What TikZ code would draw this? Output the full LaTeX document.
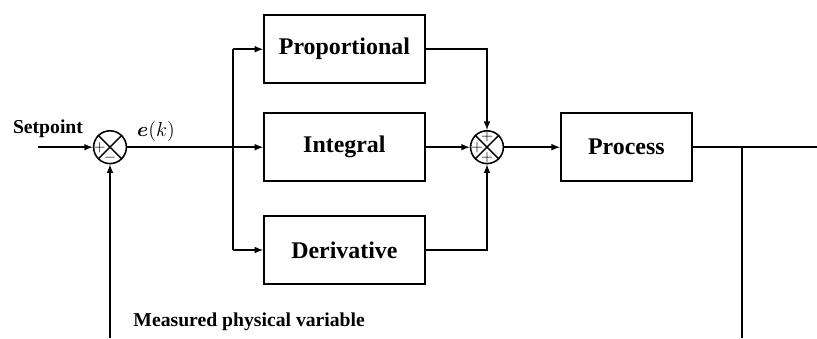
\documentclass[tikz,border=0pt]{standalone}
\usepackage{amsmath}
\usepackage{bm}
\usepackage{fontspec}
\setmainfont{Liberation Serif}
\usetikzlibrary{arrows,calc}

\begin{document}
\begin{tikzpicture}[>=latex,line width=1.1pt,
  block/.style={draw,minimum width=4.02cm,minimum height=1.7cm,font=\fontsize{17}{20}\selectfont\bfseries},
  sumnode/.style={draw,circle,minimum size=0.82cm,inner sep=0pt},
  sign/.style={inner sep=0pt,font=\fontsize{11}{12}\selectfont}]

\useasboundingbox (0,0) rectangle (20.425,8.45);

\def\ymain{4.77}

% summing junctions
\node[sumnode] (s1) at (2.75,\ymain) {};
\draw[line width=1pt] (s1.north west)--(s1.south east) (s1.north east)--(s1.south west);
\node[sign] at ($(s1.center)+(-0.26,0)$) {$+$};
\node[sign] at ($(s1.center)+(0,-0.27)$) {$-$};

\node[sumnode] (s2) at (12.175,\ymain) {};
\draw[line width=1pt] (s2.north west)--(s2.south east) (s2.north east)--(s2.south west);
\node[sign] at ($(s2.center)+(0,0.26)$) {$+$};
\node[sign] at ($(s2.center)+(-0.25,0)$) {$+$};
\node[sign] at ($(s2.center)+(0,-0.26)$) {$+$};

% controller terms and plant
\node[block] (P) at (8.61,7.22) {Proportional};
\node[block] (I) at (8.61,\ymain) {Integral};
\node[block] (D) at (8.61,2.2) {Derivative};
\node[block,minimum width=3.28cm] (G) at (15.66,\ymain) {Process};

\coordinate (sp) at (0.95,\ymain);
\coordinate (br) at (5.825,\ymain);
\coordinate (tap) at (18.55,\ymain);
\coordinate (out) at (20.425,\ymain);
\coordinate (fb) at (2.75,0);
\coordinate (tapend) at (18.55,0);

\draw[->] (sp)--(s1.west);
\draw (s1.east)--(br);
\draw[->] (br)--(I.west);
\draw[->] (br|-P.west)--(P.west);
\draw[->] (br|-D.west)--(D.west);
\draw (br|-P.west)--(br|-D.west);

\draw[->] (P.east)-|(s2.north);
\draw[->] (I.east)--(s2.west);
\draw[->] (D.east)-|(s2.south);
\draw[->] (s2.east)--(G.west);

\draw (G.east)--(out);
\draw[line width=1.5pt] (tap)--(tapend);
\draw[->] (fb)--(s1.south);

% labels
\node[font=\fontsize{14}{16}\selectfont\bfseries] (lsp) at (1.2,5.22) {Setpoint};
\node[font=\fontsize{15}{17}\selectfont] (le) at (3.9,5.17) {$\bm{e}(k)$};
\node[anchor=west,font=\fontsize{14}{16}\selectfont\bfseries] (lm) at (3.2,0.41) {Measured physical variable};

\end{tikzpicture}
\end{document}
